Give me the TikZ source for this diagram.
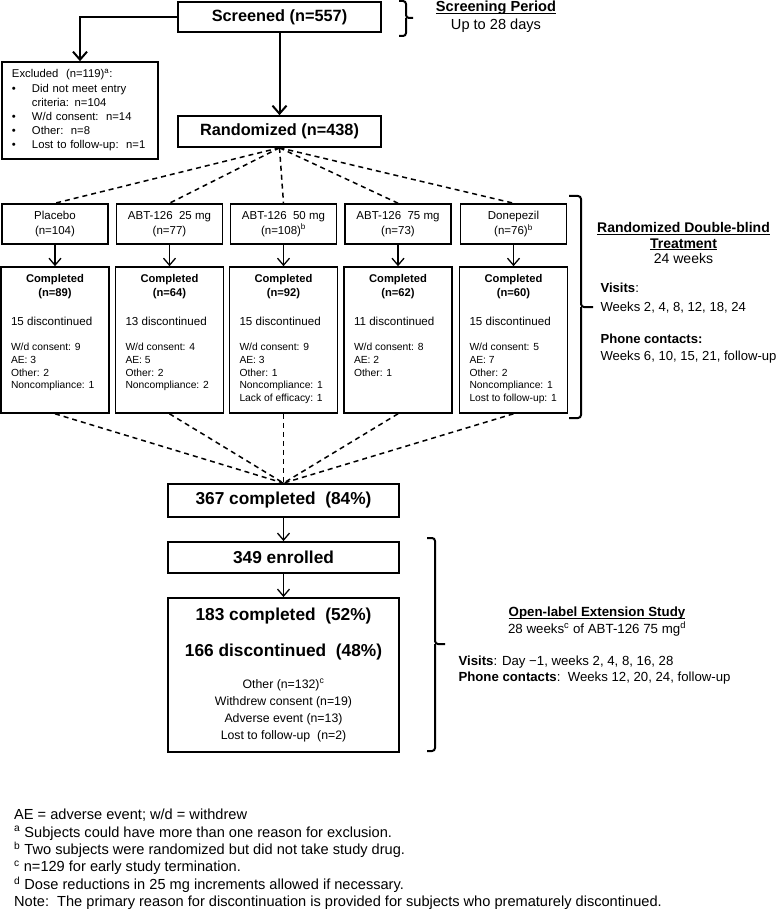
\documentclass[tikz,border=0pt]{standalone}
\usepackage{fontspec}
\setmainfont{Liberation Sans}
\usetikzlibrary{arrows.meta}
\newcommand{\fsize}[2]{\fontsize{#1}{#2}\selectfont}
\newcommand{\notesfont}{\fsize{14.6}{17.4}\lineskiplimit=-10pt\relax}
\newcommand{\headline}[1]{\underline{\smash{#1}\vphantom{Ad}}}
\newcommand{\armdone}[3]{%
  \parbox[c][146pt][t]{88pt}{\setlength{\parskip}{0pt}\vspace*{7pt}%
    {\centering\bfseries\fsize{11.2}{14}Completed\\(n=#1)\par}%
    \vspace{15pt}\raggedright\fsize{11.6}{14}#2 discontinued\par
    \vspace{13pt}\fsize{10.3}{12.7}#3\par}}

\begin{document}
\begin{tikzpicture}
    [x=1pt,y=-1pt,
     box/.style={draw,rectangle,line width=1.6pt,inner sep=0pt},
     bigbox/.style={box,line width=1.8pt,minimum width=231pt},
     headbox/.style={box,minimum width=203pt,font=\bfseries\fsize{16.3}{18}},
     armbox/.style={box,minimum width=106pt,minimum height=40pt,align=center,font=\fsize{11.5}{15}},
     donebox/.style={box,minimum width=108pt,minimum height=146pt},
     bigarrow/.style={-{Straight Barb[length=8pt,width=14pt]},line width=2pt},
     smallarrow/.style={-{Straight Barb[length=7pt,width=12pt]},line width=1.3pt},
     dashline/.style={dash pattern=on 5pt off 4pt,line width=1.5pt},
     sidebrace/.style={line width=2pt,rounded corners=3pt}]
    \useasboundingbox (0,0) rectangle (778,909);

    \node [headbox,minimum height=30pt] (screened) at (279.5,17) {Screened (n=557)};
    \node [box,minimum width=156pt,minimum height=97pt,inner xsep=10pt,
      text width=136pt,align=left,font=\fsize{11.3}{14.2}] (excluded) at (80,110.5)
      {Excluded\ \ (n=119)\textsuperscript{a}:\\
       \makebox[20pt][l]{\textbullet}Did not meet entry\\
       \hspace*{20pt}criteria: n=104\\
       \makebox[20pt][l]{\textbullet}W/d consent:\ \ n=14\\
       \makebox[20pt][l]{\textbullet}Other:\ \ n=8\\
       \makebox[20pt][l]{\textbullet}Lost to follow-up:\ \ n=1};
    \node [headbox,minimum height=31pt] (random) at (279.5,131.5) {Randomized (n=438)};
    \draw [bigarrow] (screened.west) -| (excluded.north);
    \draw [bigarrow] (screened) -- (random);

    \node [armbox] (placebo) at (55,224) {Placebo\\(n=104)};
    \node [armbox] (dose25) at (169.5,224) {ABT-126\ \ 25 mg\\(n=77)};
    \node [armbox] (dose50) at (283.5,224) {ABT-126\ \ 50 mg\\(n=108)\textsuperscript{b}};
    \node [armbox] (dose75) at (398,224) {ABT-126\ \ 75 mg\\(n=73)};
    \node [armbox] (donep) at (513.5,224) {Donepezil\\(n=76)\textsuperscript{b}};
    \draw [dashline] (random.south) -- (placebo.north);
    \draw [dashline] (random.south) -- (dose25.north);
    \draw [dashline] (random.south) -- (dose50.north);
    \draw [dashline] (random.south) -- (dose75.north);
    \draw [dashline] (random.south) -- (donep.north);

    \node [donebox] (placeboend) at (55,340)
      {\armdone{89}{15}{W/d consent: 9\\AE: 3\\Other: 2\\Noncompliance: 1}};
    \node [donebox] (dose25end) at (169.5,340)
      {\armdone{64}{13}{W/d consent: 4\\AE: 5\\Other: 2\\Noncompliance: 2}};
    \node [donebox] (dose50end) at (283.5,340)
      {\armdone{92}{15}{W/d consent: 9\\AE: 3\\Other: 1\\Noncompliance: 1\\Lack of efficacy: 1}};
    \node [donebox] (dose75end) at (398,340)
      {\armdone{62}{11}{W/d consent: 8\\AE: 2\\Other: 1}};
    \node [donebox] (donepend) at (513.5,340)
      {\armdone{60}{15}{W/d consent: 5\\AE: 7\\Other: 2\\Noncompliance: 1\\Lost to follow-up: 1}};
    \draw [smallarrow] (placebo) -- (placeboend);
    \draw [smallarrow] (dose25) -- (dose25end);
    \draw [smallarrow] (dose50) -- (dose50end);
    \draw [smallarrow] (dose75) -- (dose75end);
    \draw [smallarrow] (donep) -- (donepend);

    \node [bigbox,minimum height=33pt,font=\bfseries\fsize{17.3}{20}] (total) at (283.5,500.5)
      {367 completed\ \ (84\%)};
    \node [bigbox,minimum height=31pt,font=\bfseries\fsize{17.3}{20}] (enrolled) at (283.5,557.5)
      {349 enrolled};
    \node [bigbox,minimum height=154pt,align=center,font=\fsize{12.3}{17}] (extension) at (283.5,675)
      {\textbf{\fsize{17.3}{20}183 completed\ \ (52\%)}\\[19pt]
       \textbf{\fsize{17.3}{20}166 discontinued\ \ (48\%)}\\[14.2pt]
       Other (n=132)\textsuperscript{c}\\
       Withdrew consent (n=19)\\
       Adverse event (n=13)\\
       Lost to follow-up\ \ (n=2)};
    \draw [dashline] (placeboend.south) -- (total.north);
    \draw [dashline] (dose25end.south) -- (total.north);
    \draw [dashline] (dose50end.south) -- (total.north);
    \draw [dashline] (dose75end.south) -- (total.north);
    \draw [dashline] (donepend.south) -- (total.north);
    \draw [smallarrow] (total) -- (enrolled);
    \draw [smallarrow] (enrolled) -- (extension);

    \draw [sidebrace] (399,1) -| (406,18) -- (413,18);
    \draw [sidebrace] (406,18) |- (399,36);
    \node [align=center,font=\fsize{14.6}{18}] (screenlbl) at (496,16.5)
      {\textbf{\headline{Screening Period}}\\Up to 28 days};

    \draw [sidebrace] (569,196) -| (581,307) -- (593,307);
    \draw [sidebrace] (581,307) |- (569,418);
    \node [align=center,font=\fsize{14}{15.5}] (dblbl) at (683.5,243)
      {\textbf{\headline{Randomized Double-blind}}\\\textbf{\headline{Treatment}}\\24 weeks};
    \node [anchor=west,align=left,font=\fsize{13.1}{17}] (dbvisits) at (597,323)
      {\textbf{Visits}:\\[2pt]Weeks 2, 4, 8, 12, 18, 24\\[15pt]
       \textbf{Phone contacts:}\\Weeks 6, 10, 15, 21, follow-up};

    \draw [sidebrace] (427,538) -| (435,644) -- (445,644);
    \draw [sidebrace] (435,644) |- (427,751);
    \node [align=center,font=\fsize{13.3}{17}] (olelbl) at (597,621.5)
      {\textbf{\headline{Open-label Extension Study}}\\
       28 weeks\textsuperscript{c} of ABT-126 75 mg\textsuperscript{d}};
    \node [anchor=west,align=left,font=\fsize{13.2}{16}] (olevisits) at (455,670)
      {\textbf{Visits}: Day −1, weeks 2, 4, 8, 16, 28\\
       \textbf{Phone contacts}:\ \ Weeks 12, 20, 24, follow-up};

    \node [anchor=north west,align=left,inner sep=0pt,font=\notesfont] (notes) at (14,809)
      {AE = adverse event; w/d = withdrew\\
       \textsuperscript{a} Subjects could have more than one reason for exclusion.\\
       \textsuperscript{b} Two subjects were randomized but did not take study drug.\\
       \textsuperscript{c} n=129 for early study termination.\\
       \textsuperscript{d} Dose reductions in 25 mg increments allowed if necessary.\\
       Note:\ \ The primary reason for discontinuation is provided for subjects who prematurely discontinued.};
  \end{tikzpicture}
\end{document}
